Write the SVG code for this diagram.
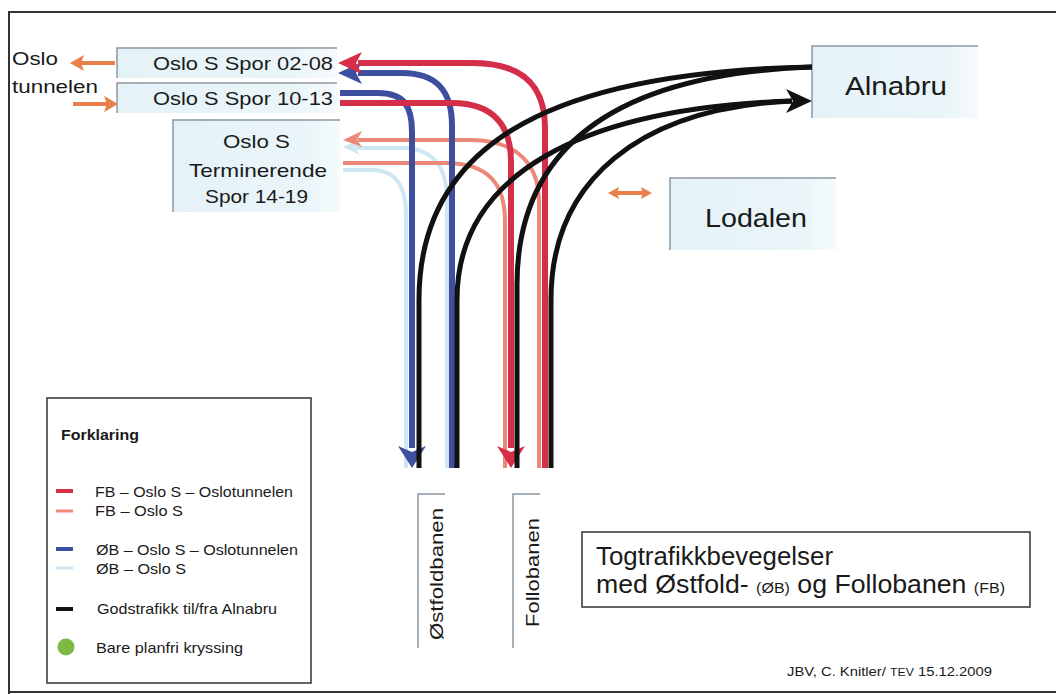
<svg xmlns="http://www.w3.org/2000/svg" width="1056" height="694" viewBox="0 0 1056 694">
<defs>
<linearGradient id="bg" x1="0" y1="0" x2="1" y2="0">
<stop offset="0" stop-color="#e4f2f7"/>
<stop offset="0.8" stop-color="#eaf5f9"/>
<stop offset="1" stop-color="#f6fbfc"/>
</linearGradient>
</defs>
<style>
text{font-family:"Liberation Sans",Arial,sans-serif;fill:#1a1a1a}
.box{fill:url(#bg);stroke:none}
.edge{stroke:#8c98a4;stroke-width:1.5;fill:none}
.nt{font-size:19px}
.big{font-size:25px}
.leg{font-size:15px}
.ln{fill:none;stroke-linecap:butt}
.red{stroke:#d42e48;stroke-width:6}
.blue{stroke:#3d4f9e;stroke-width:6}
.salm{stroke:#ec8878;stroke-width:4}
.lblue{stroke:#cfe6f4;stroke-width:4}
.blk{stroke:#111;stroke-width:5}
.org{stroke:#e8804a;stroke-width:4;fill:none}
</style>
<rect x="0" y="0" width="1056" height="694" fill="#fff"/>
<path d="M1056,12 L9,12 L9,694 M9,692 L1056,692" fill="none" stroke="#333" stroke-width="2"/>

<g id="oslo-tunnelen">
<text x="12" y="65" class="nt" textLength="46" lengthAdjust="spacingAndGlyphs">Oslo</text>
<text x="12" y="93" class="nt" textLength="86" lengthAdjust="spacingAndGlyphs">tunnelen</text>
<path class="org" d="M115,63 L80,63"/>
<polygon points="70,63 84,55 81,63 84,71" fill="#e8804a"/>
<path class="org" d="M73,104 L108,104"/>
<polygon points="118,104 104,96 107,104 104,112" fill="#e8804a"/>
</g>

<g id="spor-02-08">
<rect class="box" x="117" y="48" width="220" height="30"/>
<path class="edge" d="M117,78 L117,48 L337,48"/>
<text x="153" y="70" class="nt" textLength="180" lengthAdjust="spacingAndGlyphs">Oslo S Spor 02-08</text>
</g>
<g id="spor-10-13">
<rect class="box" x="117" y="83" width="220" height="30"/>
<path class="edge" d="M117,113 L117,83 L337,83"/>
<text x="153" y="105" class="nt" textLength="180" lengthAdjust="spacingAndGlyphs">Oslo S Spor 10-13</text>
</g>
<g id="spor-14-19">
<rect class="box" x="173" y="120" width="167" height="92"/>
<path class="edge" d="M173,212 L173,120 L340,120"/>
<text x="223" y="148" class="nt" textLength="67" lengthAdjust="spacingAndGlyphs">Oslo S</text>
<text x="189" y="177" class="nt" textLength="138" lengthAdjust="spacingAndGlyphs">Terminerende</text>
<text x="205" y="203" class="nt" textLength="103" lengthAdjust="spacingAndGlyphs">Spor 14-19</text>
</g>
<g id="alnabru">
<rect class="box" x="812" y="46" width="166" height="72"/>
<path class="edge" d="M812,118 L812,46 L978,46"/>
<text x="845" y="95" class="big" textLength="102" lengthAdjust="spacingAndGlyphs">Alnabru</text>
</g>
<g id="lodalen">
<rect class="box" x="670" y="178" width="166" height="72"/>
<path class="edge" d="M670,250 L670,178 L836,178"/>
<text x="705" y="227" class="big" textLength="102" lengthAdjust="spacingAndGlyphs">Lodalen</text>
<path class="org" d="M616,193 L644,193" stroke-width="3"/>
<polygon points="608,193 619,187 617,193 619,199" fill="#e8804a"/>
<polygon points="652,193 641,187 643,193 641,199" fill="#e8804a"/>
</g>

<g id="connectors">
<path class="ln lblue" d="M343,170 L372,170 C396,170 406,186 406,215 L406,468"/>
<path class="ln lblue" d="M356,148 L402,148 C432,148 447,166 447,200 L447,468"/>
<polygon points="343,147 360,139 355,148 360,155" fill="#cfe6f4"/>
<path class="ln salm" d="M343,163 L445,163 C490,163 505,185 505,222 L505,468"/>
<path class="ln salm" d="M358,140 L470,140 C518,140 539,165 539,202 L539,468"/>
<polygon points="343,140 362,131 357,140 362,147" fill="#ec8878"/>

<path class="ln blue" d="M340,93 L378,93 C404,93 412,106 412,132 L412,448"/>
<polygon points="412,468 398,446 412,452 426,446" fill="#3d4f9e"/>
<path class="ln blue" d="M358,73 L402,73 C436,73 452,90 452,126 L452,468"/>
<polygon points="338,73 362,62 356,73 362,84" fill="#3d4f9e"/>
<path class="ln red" d="M340,103 L452,103 C494,103 511,126 511,162 L511,448"/>
<polygon points="511,468 497,446 511,452 525,446" fill="#d42e48"/>
<path class="ln red" d="M358,63 L472,63 C522,63 545,85 545,128 L545,468"/>
<polygon points="338,63 362,52 356,63 362,74" fill="#d42e48"/>

<path class="ln blk" d="M419,468 L419,300 C419,150 540,72 812,67"/>
<path class="ln blk" d="M457,468 L457,300 C457,175 580,108 792,101"/>
<path class="ln blk" d="M517,468 L517,285 C517,150 610,74 812,67"/>
<path class="ln blk" d="M551,468 L551,300 C551,180 640,108 792,101"/>
<polygon points="812,101 786,89 793,101 786,113" fill="#111"/>
</g>

<g id="ostfoldbanen">
<path class="edge" d="M418,648 L418,494 L445,494"/>
<text transform="translate(443,640) rotate(-90)" font-size="18" textLength="132" lengthAdjust="spacingAndGlyphs">Østfoldbanen</text>
</g>
<g id="follobanen">
<path class="edge" d="M513,648 L513,494 L540,494"/>
<text transform="translate(539,627) rotate(-90)" font-size="18" textLength="109" lengthAdjust="spacingAndGlyphs">Follobanen</text>
</g>

<g id="legend">
<rect x="47" y="398" width="264" height="285" fill="#fff" stroke="#333" stroke-width="1.5"/>
<text x="61" y="440" font-size="14" font-weight="bold" textLength="78" lengthAdjust="spacingAndGlyphs">Forklaring</text>
<line x1="56" y1="491" x2="73" y2="491" stroke="#d42e48" stroke-width="4"/>
<text x="95" y="497" class="leg" textLength="198" lengthAdjust="spacingAndGlyphs">FB – Oslo S – Oslotunnelen</text>
<line x1="56" y1="511" x2="73" y2="511" stroke="#ec8878" stroke-width="3"/>
<text x="95" y="516" class="leg" textLength="88" lengthAdjust="spacingAndGlyphs">FB – Oslo S</text>
<line x1="56" y1="549" x2="73" y2="549" stroke="#3d4f9e" stroke-width="4"/>
<text x="96" y="555" class="leg" textLength="202" lengthAdjust="spacingAndGlyphs">ØB – Oslo S – Oslotunnelen</text>
<line x1="56" y1="568" x2="73" y2="568" stroke="#cfe6f4" stroke-width="3"/>
<text x="96" y="574" class="leg" textLength="90" lengthAdjust="spacingAndGlyphs">ØB – Oslo S</text>
<line x1="56" y1="609" x2="73" y2="609" stroke="#111" stroke-width="4"/>
<text x="97" y="614" class="leg" textLength="180" lengthAdjust="spacingAndGlyphs">Godstrafikk til/fra Alnabru</text>
<circle cx="66" cy="647" r="8.5" fill="#7cba44"/>
<text x="96" y="653" class="leg" textLength="147" lengthAdjust="spacingAndGlyphs">Bare planfri kryssing</text>
</g>

<g id="title">
<rect x="582" y="532" width="448" height="75" fill="#fff" stroke="#333" stroke-width="1.5"/>
<text x="596" y="565" font-size="25" textLength="237" lengthAdjust="spacingAndGlyphs">Togtrafikkbevegelser</text>
<text x="596" y="593" font-size="25" textLength="409" lengthAdjust="spacingAndGlyphs">med Østfold- <tspan font-size="15">(ØB)</tspan> og Follobanen <tspan font-size="15">(FB)</tspan></text>
</g>
<text x="787" y="676" font-size="12" textLength="205" lengthAdjust="spacingAndGlyphs">JBV, C. Knitler/ <tspan font-size="10">TEV</tspan> 15.12.2009</text>
</svg>
